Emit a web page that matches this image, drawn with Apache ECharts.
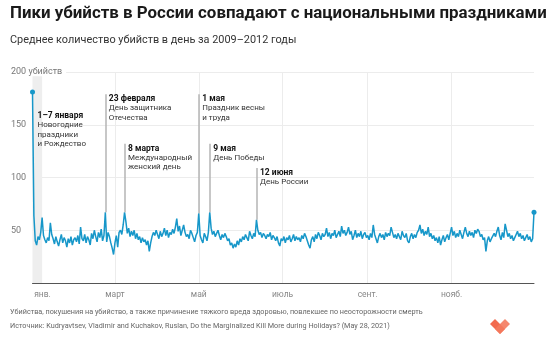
<!DOCTYPE html>
<html>
<head>
<meta charset="utf-8">
<script src="https://cdn.jsdelivr.net/npm/echarts@6/dist/echarts.min.js"></script>
<style>
  html, body { margin: 0; padding: 0; background: #fff; }
  #chart { width: 557px; height: 353px; }
</style>
</head>
<body>
<div id="chart"></div>
<script>
// среднее число убийств в день, 2009–2012 (по месяцам, високосный год)
const jan = [181, 64, 40, 36, 44, 41, 48, 62, 45, 41, 38, 43, 40, 57, 46, 42, 37, 44, 39, 35, 41, 46, 38, 43, 40, 34, 42, 38, 44, 36, 41];
const feb = [43, 39, 45, 37, 53, 42, 40, 46, 38, 44, 41, 36, 47, 42, 50, 44, 39, 48, 43, 51, 40, 45, 67, 39, 48, 44, 38, 33, 27];
const mar = [38, 45, 34, 48, 50, 46, 55, 67, 58, 47, 52, 44, 49, 45, 50, 42, 47, 41, 44, 38, 43, 39, 41, 36, 40, 30, 38, 44, 48, 45, 50];
const apr = [46, 42, 49, 44, 47, 52, 45, 50, 43, 48, 46, 51, 47, 53, 61, 49, 54, 45, 50, 55, 48, 44, 46, 42, 50, 47, 43, 39, 45, 48];
const may = [66, 45, 41, 38, 47, 44, 40, 48, 67, 52, 46, 49, 44, 47, 50, 45, 41, 46, 43, 47, 44, 40, 42, 36, 38, 33, 37, 34, 40, 36, 42];
const jun = [39, 44, 41, 46, 43, 40, 49, 45, 42, 47, 44, 60, 50, 46, 48, 43, 47, 45, 42, 46, 44, 48, 41, 45, 43, 40, 44, 38, 35, 42];
const jul = [40, 44, 38, 43, 41, 45, 39, 42, 46, 40, 44, 41, 43, 39, 45, 42, 47, 44, 40, 36, 33, 41, 44, 39, 46, 42, 48, 45, 41, 47, 44];
const aug = [46, 52, 44, 48, 42, 47, 45, 50, 43, 46, 49, 44, 54, 47, 50, 45, 48, 53, 46, 49, 41, 45, 50, 43, 47, 44, 49, 42, 46, 48, 43];
const sep = [45, 41, 47, 43, 55, 46, 42, 38, 44, 47, 43, 46, 41, 48, 44, 47, 45, 53, 48, 43, 46, 42, 47, 44, 41, 49, 45, 43, 47, 40];
const oct = [38, 44, 47, 42, 46, 43, 48, 50, 55, 47, 51, 45, 49, 46, 53, 44, 47, 42, 45, 40, 43, 38, 44, 36, 41, 45, 39, 43, 46, 41, 47];
const nov = [53, 45, 49, 43, 47, 44, 50, 46, 42, 48, 53, 47, 44, 49, 45, 48, 43, 50, 47, 51, 49, 44, 46, 41, 43, 30, 40, 44, 39, 42];
const dec = [42, 47, 44, 49, 53, 45, 41, 48, 43, 56, 50, 44, 47, 42, 45, 40, 43, 46, 49, 44, 47, 42, 45, 40, 43, 46, 41, 44, 39, 42, 67];

const months = [jan, feb, mar, apr, may, jun, jul, aug, sep, oct, nov, dec];
const monthNames = ['янв.', '', 'март', '', 'май', '', 'июль', '', 'сент.', '', 'нояб.', ''];

// праздники: индекс дня, верх выноски, подпись
const holidayDay = [53, 67, 121, 129, 163];
const holidayTop = [179, 132, 179, 132, 109];
const holidayDate = ['23 февраля', '8 марта', '1 мая', '9 мая', '12 июня'];
const holidayText = ['День защитника\nОтечества', 'Международный\nженский день', 'Праздник весны\nи труда', 'День Победы', 'День России'];

const newYearDays = [0, 7];
const newYearBandTop = 196;
const newYearLabelTop = 163;

const values = [].concat(...months);
const days = values.map((v, i) => i);

// первый день каждого месяца -> подпись
const monthStart = {};
let acc = 0;
months.forEach((m, k) => { monthStart[acc] = monthNames[k]; acc += m.length; });
const isLabelDay = (i) => monthStart[i] !== undefined && monthStart[i] !== '';

const FONT = 'Roboto, "Noto Sans", sans-serif';
const last = values.length - 1;

const chart = echarts.init(document.getElementById('chart'));

const markLines = holidayDay.map((d, i) => [
  { coord: [d, values[d]] },
  { coord: [d, holidayTop[i]] }
]);

const markPoints = holidayDay.map((d, i) => ({
  coord: [d, holidayTop[i]],
  label: {
    formatter: '{b|' + holidayDate[i] + '}\n' +
      holidayText[i].split('\n').map(t => '{t|' + t + '}').join('\n')
  }
}));
markPoints.push({
  coord: [newYearDays[0], newYearLabelTop],
  label: {
    position: [5, 0],
    formatter: '{b|1–7 января}\n{t|Новогодние}\n{t|праздники}\n{t|и Рождество}'
  }
});

const option = {
  animation: false,
  textStyle: { fontFamily: FONT },
  title: [
    {
      text: 'Пики убийств в России совпадают с национальными праздниками',
      left: 10, top: 5, padding: 0,
      textStyle: { fontFamily: FONT, fontSize: 16.9, fontWeight: 'bold', color: '#1a1a1a' }
    },
    {
      text: 'Среднее количество убийств в день за 2009–2012 годы',
      left: 10, top: 35, padding: 0,
      textStyle: { fontFamily: FONT, fontSize: 10.9, fontWeight: 'normal', color: '#333' }
    },
    {
      text: 'Убийства, покушения на убийство, а также причинение тяжкого вреда здоровью, повлекшее по неосторожности смерть',
      left: 10, top: 309, padding: 0,
      textStyle: { fontFamily: FONT, fontSize: 7.25, fontWeight: 'normal', color: '#666' }
    },
    {
      text: 'Источник: Kudryavtsev, Vladimir and Kuchakov, Ruslan, Do the Marginalized Kill More during Holidays? (May 28, 2021)',
      left: 10, top: 323, padding: 0,
      textStyle: { fontFamily: FONT, fontSize: 7.25, fontWeight: 'normal', color: '#666' }
    }
  ],
  grid: { left: 32.5, right: 23, top: 72, bottom: 70 },
  xAxis: {
    type: 'category',
    data: days,
    boundaryGap: false,
    axisLine: { lineStyle: { color: '#555', width: 1 } },
    axisTick: { show: false },
    axisLabel: {
      interval: (i) => isLabelDay(i),
      formatter: (v, i) => i === 0 ? '{f|' + monthStart[0] + '}' : monthStart[i],
      color: '#888', fontSize: 8.5, fontFamily: FONT, margin: 7,
      rich: { f: { padding: [0, 0, 0, 20], color: '#888', fontSize: 8.5, fontFamily: FONT } }
    },
    splitLine: {
      show: true,
      interval: (i) => i > 0 && isLabelDay(i),
      lineStyle: { color: '#ececec', width: 1 }
    }
  },
  yAxis: {
    type: 'value',
    min: 0, max: 200, interval: 50,
    axisLine: { show: false },
    axisTick: { show: false },
    axisLabel: {
      align: 'left',
      margin: 21.5,
      color: '#777', fontSize: 9, fontFamily: FONT,
      formatter: (v) => v === 0 ? '' : (v === 200 ? '{u|200 убийств}' : String(v)),
      rich: { u: { backgroundColor: '#fff', padding: [1, 4, 1, 0], color: '#777', fontSize: 9, fontFamily: FONT } }
    },
    splitLine: { lineStyle: { color: '#ececec', width: 1 } }
  },
  series: [{
    type: 'line',
    data: values,
    showAllSymbol: true,
    symbol: 'circle',
    symbolSize: (v, p) => (p.dataIndex === 0 || p.dataIndex === last) ? 5 : 0,
    itemStyle: { color: '#1797c9' },
    lineStyle: { color: '#1797c9', width: 1.5 },
    z: 3,
    markArea: {
      silent: true,
      itemStyle: { color: '#eeeeee' },
      data: [[{ coord: [newYearDays[0], 0] }, { coord: [newYearDays[1], newYearBandTop] }]]
    },
    markLine: {
      silent: true,
      symbol: ['none', 'none'],
      label: { show: false },
      lineStyle: { color: '#b4b4b4', width: 1.5, type: 'solid' },
      data: markLines
    },
    markPoint: {
      silent: true,
      symbol: 'circle',
      symbolSize: 0,
      itemStyle: { color: 'transparent' },
      label: {
        show: true,
        position: [3.5, 0],
        align: 'left',
        verticalAlign: 'top',
        rich: {
          b: { fontFamily: FONT, fontSize: 8.5, fontWeight: 'bold', color: '#111', lineHeight: 9.5 },
          t: { fontFamily: FONT, fontSize: 8, color: '#333', lineHeight: 9.5 }
        }
      },
      data: markPoints
    }
  }],
  graphic: [
    {
      type: 'group', left: 490, top: 319,
      children: [
        { type: 'polygon', shape: { points: [[0, 5], [5, 0], [15, 10], [10, 15]] }, style: { fill: '#f15a3b', opacity: 0.9 } },
        { type: 'polygon', shape: { points: [[20, 5], [15, 0], [5, 10], [10, 15]] }, style: { fill: '#f47a5e', opacity: 0.9 } }
      ]
    }
  ]
};

chart.setOption(option);
</script>
</body>
</html>
